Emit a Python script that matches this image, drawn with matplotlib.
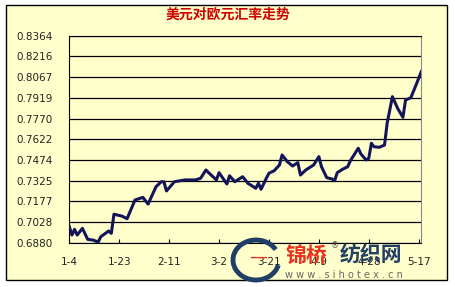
import matplotlib
matplotlib.use('Agg')
from matplotlib import pyplot as plt
from matplotlib.patches import Rectangle, Arc
import numpy as np

plt.rcParams['font.family'] = ['DejaVu Sans', 'Noto Sans CJK SC']

# days since 2010-01-04 and USD/EUR rate
days = [0, 1, 2, 3, 5, 7, 9, 11, 12, 15, 16, 17, 20, 22, 25, 28, 30, 33, 35, 36,
        37, 40, 44, 48, 50, 52, 54, 56, 57, 60, 61, 63, 66, 68, 71, 72, 73, 75, 76, 78,
        80, 81, 83, 85, 87, 88, 90, 93, 95, 96, 98, 100, 101, 102, 104, 106, 107, 110, 111, 113,
        114, 115, 116, 118, 120, 121, 123, 125, 127, 128, 130, 132, 134]
rates = [0.6995, 0.6935, 0.6976, 0.6935, 0.6983, 0.6904, 0.6899, 0.6885, 0.6923, 0.6964,
         0.6947, 0.7084, 0.7071, 0.7052, 0.7186, 0.7205, 0.7157, 0.7281, 0.7317, 0.7317,
         0.7251, 0.7317, 0.7330, 0.7330, 0.7342, 0.7401, 0.7365, 0.7330, 0.7382, 0.7301,
         0.7360, 0.7317, 0.7353, 0.7306, 0.7270, 0.7306, 0.7263, 0.7342, 0.7378, 0.7396,
         0.7437, 0.7509, 0.7461, 0.7430, 0.7454, 0.7365, 0.7401, 0.7437, 0.7497, 0.7425,
         0.7346, 0.7337, 0.7324, 0.7382, 0.7406, 0.7425, 0.7468, 0.7557, 0.7516, 0.7473,
         0.7485, 0.7593, 0.7568, 0.7564, 0.7580, 0.7736, 0.7927, 0.7843, 0.7779, 0.7903,
         0.7919, 0.8011, 0.8106]

y_ticks = [0.6880, 0.7028, 0.7177, 0.7325, 0.7474, 0.7622, 0.7770, 0.7919, 0.8067, 0.8216, 0.8364]
x_ticks = [0, 19, 38, 57, 76, 95, 114, 133]
x_labels = ['1-4', '1-23', '2-11', '3-2', '3-21', '4-9', '4-28', '5-17']

bg = '#FFFFCC'
W, H = 455, 287
fig = plt.figure(figsize=(W / 100, H / 100), dpi=100)
fig.patch.set_facecolor('white')

# outer chart box
fig.patches.append(Rectangle((6 / W, 7 / H), 441 / W, 275 / H, transform=fig.transFigure,
                             facecolor=bg, edgecolor='black', lw=1, zorder=-5))

ax = fig.add_axes([69.3 / W, 44.3 / H, 352 / W, 207 / H])
ax.set_facecolor(bg)
ax.plot(days, rates, color='#14145a', lw=2.2, solid_joinstyle='round', zorder=3)

ax.set_xlim(0, 134)
ax.set_ylim(y_ticks[0], y_ticks[-1])
ax.set_yticks(y_ticks)
ax.set_yticklabels(['%.4f' % v for v in y_ticks])
ax.set_xticks(x_ticks)
ax.set_xticklabels(x_labels)
ax.grid(axis='y', color='black', lw=0.9)
ax.tick_params(axis='y', length=0, pad=12, labelsize=7.5, labelcolor='#222222')
ax.tick_params(axis='x', direction='in', length=3, pad=10, labelsize=7.5, labelcolor='#222222')
for s in ['left', 'bottom', 'top']:
    ax.spines[s].set_color('black')
ax.spines['right'].set_color('#888888')

fig.text(0.5, 1 - 15 / H, '美元对欧元汇率走势', ha='center', va='center',
         color='#CC0000', fontsize=10, fontweight='bold', family=['Noto Sans CJK SC'])

# watermark
fig.patches.append(Arc((256 / W, 1 - 260 / H), 46 / W, 40 / H, theta1=40, theta2=340,
                       transform=fig.transFigure, color='#1f3f66', lw=3.5, zorder=5))
fig.text(258 / W, 1 - 257 / H, '—', color='#e03020', fontsize=13, ha='center', va='center',
         zorder=6)
fig.text(286 / W, 1 - 255 / H, '锦桥', color='#e8321e', fontsize=15, fontweight='bold',
         ha='left', va='center', family=['Noto Sans CJK SC'], zorder=6)
fig.text(331 / W, 1 - 246 / H, '®', color='#555555', fontsize=6, ha='left', va='center', zorder=6)
fig.text(340 / W, 1 - 255 / H, '纺织网', color='#233f66', fontsize=15, fontweight='bold',
         ha='left', va='center', family=['Noto Sans CJK SC'], zorder=6)
fig.text(344 / W, 1 - 275 / H, 'w w w . s i h o t e x . c n', color='#666666', fontsize=7,
         ha='center', va='center', zorder=6)

fig.savefig('out.png', dpi=100, facecolor='white')
